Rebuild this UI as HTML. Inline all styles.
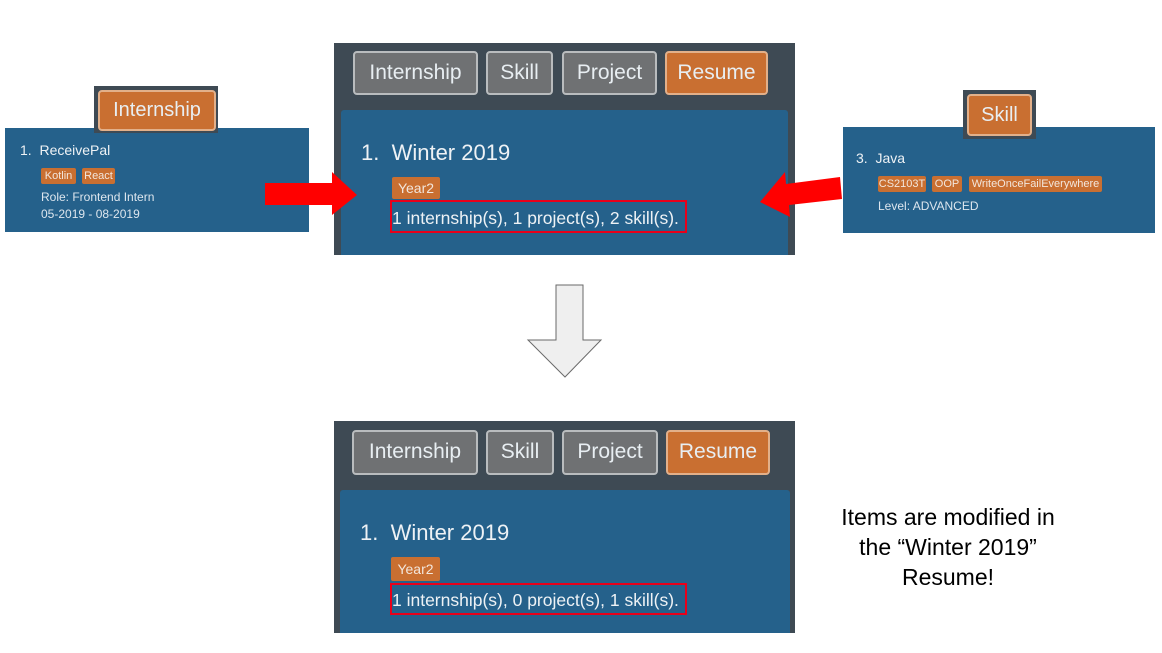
<!DOCTYPE html>
<html><head><meta charset="utf-8"><style>
body{margin:0;width:1162px;height:653px;background:#fff;position:relative;overflow:hidden;font-family:"Liberation Sans",sans-serif}
.a{position:absolute;box-sizing:border-box}
.blue{background:#25618b}
.dark{background:#3e4a54}
.btn{position:absolute;box-sizing:border-box;border:2px solid #b9bcbe;border-radius:4px;background:#6f7173;color:#e8eef2;font-size:21px;text-align:center;line-height:40px}
.or{background:#c96f31;border-color:#e2b08a}
.tag{position:absolute;background:#c96f31;color:#f2e6dc;border-radius:2px;text-align:center}
.t{position:absolute;color:#eef2f5;white-space:nowrap}
.red{position:absolute;border:2px solid #e8001a;box-sizing:border-box}
</style></head><body>

<!-- left card -->
<div class="a blue" style="left:5px;top:128px;width:304px;height:104px"></div>
<div class="a dark" style="left:94px;top:86px;width:124px;height:47px"></div>
<div class="btn or" style="left:98px;top:90px;width:118px;height:41px;font-size:20px;line-height:37px">Internship</div>
<div class="t" style="left:20px;top:142px;font-size:14px">1.&nbsp; ReceivePal</div>
<div class="tag" style="left:41px;top:168px;width:35px;height:16px;font-size:11px;line-height:16px">Kotlin</div>
<div class="tag" style="left:82px;top:168px;width:33px;height:16px;font-size:11px;line-height:16px">React</div>
<div class="t" style="left:41px;top:190px;font-size:12px;color:#dde6ee">Role: Frontend Intern</div>
<div class="t" style="left:41px;top:207px;font-size:12px;color:#dde6ee">05-2019 - 08-2019</div>

<!-- top panel -->
<div class="a dark" style="left:334px;top:43px;width:461px;height:212px"></div>
<div class="btn" style="left:353px;top:51px;width:125px;height:44px">Internship</div>
<div class="btn" style="left:486px;top:51px;width:67px;height:44px">Skill</div>
<div class="btn" style="left:562px;top:51px;width:95px;height:44px">Project</div>
<div class="btn or" style="left:665px;top:51px;width:103px;height:44px">Resume</div>
<div class="a blue" style="left:341px;top:110px;width:447px;height:145px;border-radius:3px 3px 0 0"></div>
<div class="t" style="left:361px;top:140px;font-size:22px">1.&nbsp; Winter 2019</div>
<div class="tag" style="left:392px;top:177px;width:48px;height:22px;font-size:14px;line-height:22px">Year2</div>
<div class="red" style="left:390px;top:200px;width:297px;height:33px"></div>
<div class="t" style="left:392px;top:208px;font-size:17.5px">1 internship(s), 1 project(s), 2 skill(s).</div>

<!-- right card -->
<div class="a blue" style="left:843px;top:127px;width:312px;height:106px"></div>
<div class="a dark" style="left:963px;top:90px;width:73px;height:49px"></div>
<div class="btn or" style="left:967px;top:94px;width:65px;height:42px;font-size:20px;line-height:38px">Skill</div>
<div class="t" style="left:856px;top:150px;font-size:14px">3.&nbsp; Java</div>
<div class="tag" style="left:878px;top:176px;width:48px;height:16px;font-size:11px;line-height:16px">CS2103T</div>
<div class="tag" style="left:932px;top:176px;width:30px;height:16px;font-size:11px;line-height:16px">OOP</div>
<div class="tag" style="left:969px;top:176px;width:133px;height:16px;font-size:11px;line-height:16px">WriteOnceFailEverywhere</div>
<div class="t" style="left:878px;top:199px;font-size:12px;color:#dde6ee">Level: ADVANCED</div>

<!-- arrows -->
<svg class="a" style="left:0;top:0" width="1162" height="653">
<polygon points="265,183 332,183 332,172 357,195 332,215 332,205 265,205" fill="#ff0000"/>
<polygon points="840,177 786,184 785,172 760,202 790,217 789,205 842,199" fill="#ff0000"/>
<polygon points="556,285 583,285 583,340 601,340 565,377 528,340 556,340" fill="#efefef" stroke="#6a6a6a" stroke-width="1"/>
</svg>

<!-- bottom panel -->
<div class="a dark" style="left:334px;top:421px;width:461px;height:212px"></div>
<div class="btn" style="left:352px;top:430px;width:126px;height:45px">Internship</div>
<div class="btn" style="left:486px;top:430px;width:68px;height:45px">Skill</div>
<div class="btn" style="left:562px;top:430px;width:96px;height:45px">Project</div>
<div class="btn or" style="left:666px;top:430px;width:104px;height:45px">Resume</div>
<div class="a blue" style="left:340px;top:490px;width:450px;height:143px;border-radius:3px 3px 0 0"></div>
<div class="t" style="left:360px;top:520px;font-size:22px">1.&nbsp; Winter 2019</div>
<div class="tag" style="left:391px;top:557px;width:49px;height:24px;font-size:14px;line-height:24px">Year2</div>
<div class="red" style="left:390px;top:583px;width:297px;height:32px"></div>
<div class="t" style="left:392px;top:590px;font-size:17.5px">1 internship(s), 0 project(s), 1 skill(s).</div>

<div class="a" style="left:798px;top:502px;width:300px;text-align:center;font-size:23px;line-height:30px;color:#000">Items are modified in<br>the “Winter 2019”<br>Resume!</div>
</body></html>
